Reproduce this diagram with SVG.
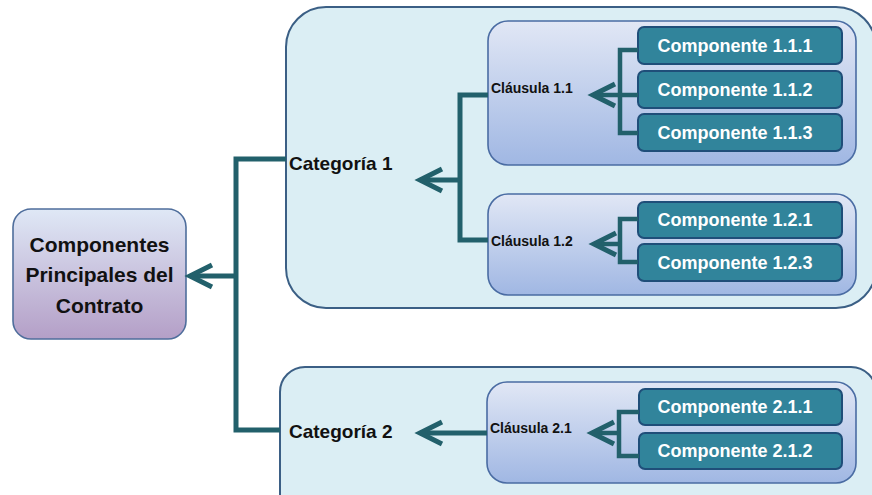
<svg xmlns="http://www.w3.org/2000/svg" width="872" height="495" viewBox="0 0 872 495">
<style>
.cat{fill:#dbeef4;stroke:#3b5f85;stroke-width:2}
.cl{fill:url(#gCl);stroke:#4a6ca3;stroke-width:1.6}
.cp{fill:#31849b;stroke:#1f4e79;stroke-width:2}
.t{font-family:"Liberation Sans",Arial,sans-serif;font-weight:bold}
.tr{font-size:21px;fill:#111;text-anchor:middle}
.tc{font-size:19px;fill:#111}
.tl{font-size:14px;fill:#111}
.tp{font-size:18px;fill:#fff;text-anchor:middle}
.cn{fill:none;stroke:#22606b;stroke-width:5;stroke-linejoin:miter}
.cn2{fill:none;stroke:#22606b;stroke-width:4.5}
</style>
<defs>
<linearGradient id="gRoot" x1="0" y1="0" x2="0" y2="1">
<stop offset="0" stop-color="#dfe8f6"/>
<stop offset="1" stop-color="#b49fc7"/>
</linearGradient>
<linearGradient id="gCl" x1="0" y1="0" x2="0" y2="1">
<stop offset="0" stop-color="#e1e7f5"/>
<stop offset="1" stop-color="#a0b7e3"/>
</linearGradient>
<marker id="arr" markerUnits="userSpaceOnUse" markerWidth="40" markerHeight="40" viewBox="-30 -20 40 40" refX="0" refY="0" orient="auto" overflow="visible">
<path d="M-22,-11 L0,0 L-22,11" fill="none" stroke="#22606b" stroke-width="5"/>
</marker>
</defs>

<g id="cat1">
<rect class="cat" x="286" y="7" width="590" height="301" rx="40"/>
<text class="t tc" x="289" y="170">Categoría 1</text>
</g>
<g id="cat2">
<rect class="cat" x="280" y="367" width="596" height="160" rx="25"/>
<text class="t tc" x="289" y="438">Categoría 2</text>
</g>

<g id="root">
<rect x="13" y="209" width="173" height="130" rx="18" fill="url(#gRoot)" stroke="#4f6e9c" stroke-width="1.6"/>
<text class="t tr" x="99.5" y="252">Componentes</text>
<text class="t tr" x="99.5" y="282">Principales del</text>
<text class="t tr" x="99.5" y="313">Contrato</text>
</g>

<g id="cl11">
<rect class="cl" x="488" y="21" width="368" height="144" rx="20"/>
<text class="t tl" x="491" y="93">Cláusula 1.1</text>
</g>
<g id="cl12">
<rect class="cl" x="488" y="194" width="368" height="101" rx="20"/>
<text class="t tl" x="491" y="246">Cláusula 1.2</text>
</g>
<g id="cl21">
<rect class="cl" x="487" y="382" width="369" height="101" rx="20"/>
<text class="t tl" x="490" y="433">Cláusula 2.1</text>
</g>

<g id="c111"><rect class="cp" x="638" y="27" width="204" height="37" rx="6"/><text class="t tp" x="735" y="52">Componente 1.1.1</text></g>
<g id="c112"><rect class="cp" x="638" y="71" width="204" height="37" rx="6"/><text class="t tp" x="735" y="96">Componente 1.1.2</text></g>
<g id="c113"><rect class="cp" x="638" y="114" width="204" height="37" rx="6"/><text class="t tp" x="735" y="139">Componente 1.1.3</text></g>
<g id="c121"><rect class="cp" x="638" y="202" width="204" height="36" rx="6"/><text class="t tp" x="735" y="226">Componente 1.2.1</text></g>
<g id="c123"><rect class="cp" x="638" y="244" width="204" height="37" rx="6"/><text class="t tp" x="735" y="269">Componente 1.2.3</text></g>
<g id="c211"><rect class="cp" x="639" y="389" width="203" height="36" rx="6"/><text class="t tp" x="735" y="413">Componente 2.1.1</text></g>
<g id="c212"><rect class="cp" x="639" y="433" width="203" height="36" rx="6"/><text class="t tp" x="735" y="457">Componente 2.1.2</text></g>

<g id="connectors">
<path class="cn" d="M286,159 H236 V430 H280"/>
<path class="cn" d="M236,276 H190" marker-end="url(#arr)"/>
<path class="cn" d="M488,95 H460 V240 H488"/>
<path class="cn" d="M460,180 H420" marker-end="url(#arr)"/>
<path class="cn" d="M487,433 H420" marker-end="url(#arr)"/>
<path class="cn2" d="M638,50 H620 V133 H638"/>
<path class="cn2" d="M638,95 H593" marker-end="url(#arr)"/>
<path class="cn2" d="M638,219 H620 V262 H638"/>
<path class="cn2" d="M620,244 H594" marker-end="url(#arr)"/>
<path class="cn2" d="M639,412 H619 V456 H639"/>
<path class="cn2" d="M619,433 H592" marker-end="url(#arr)"/>
</g>
</svg>
